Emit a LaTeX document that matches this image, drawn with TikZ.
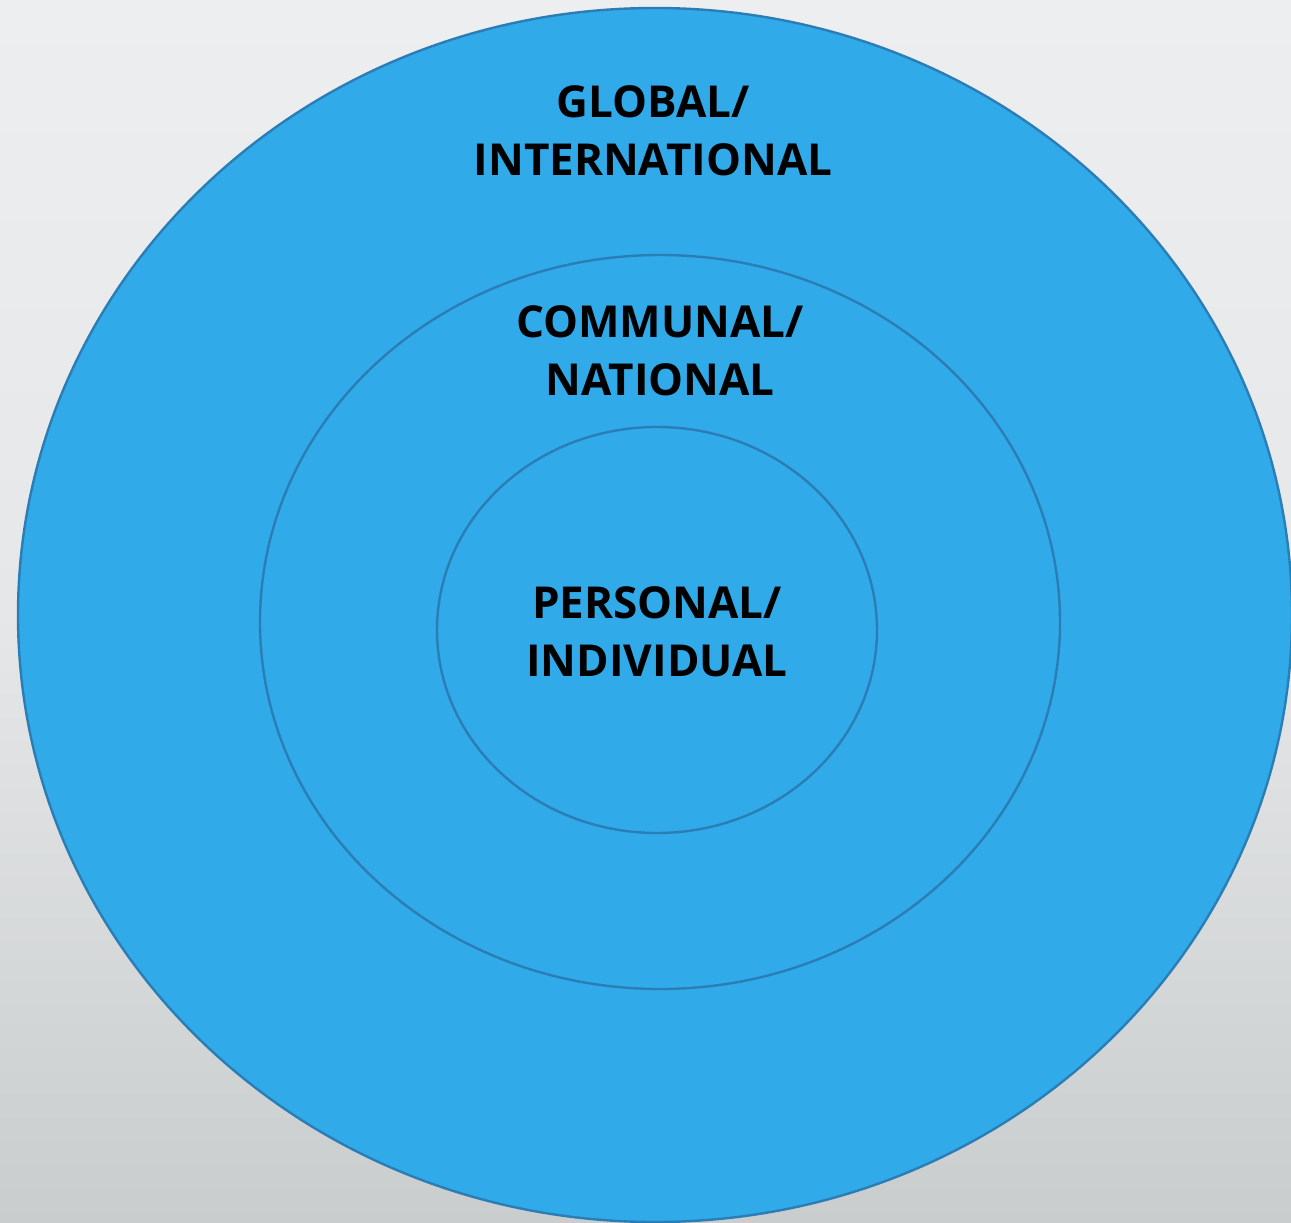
\documentclass[tikz,border=0pt]{standalone}
\usepackage{fontspec}
\setmainfont{Open Sans}
\definecolor{ringfill}{HTML}{31AAEA}
\definecolor{ringline}{HTML}{2B7DB5}
\definecolor{bgtop}{HTML}{EDEEEF}
\definecolor{bgmid}{HTML}{E6E7E8}
\definecolor{bgbot}{HTML}{C9CDCE}
\begin{document}
\begin{tikzpicture}[x=1pt,y=-1pt,
  ring/.style={fill=ringfill,draw=ringline,line width=2.4pt},
  lbl/.style={font=\fontsize{44}{58}\selectfont\bfseries,align=center,text=black,inner sep=0pt}]
\shade[top color=bgtop,bottom color=bgbot,middle color=bgmid] (0,0) rectangle (1291,1223);
\useasboundingbox (0,0) rectangle (1291,1223);
\draw[ring] (655,615) ellipse [x radius=637,y radius=607];
\draw[ring] (660,622) ellipse [x radius=400,y radius=367];
\draw[ring] (657,630) ellipse [x radius=220,y radius=203];
\node[lbl] (global) at (653,131) {GLOBAL/\\INTERNATIONAL};
\node[lbl] (communal) at (660,351) {COMMUNAL/\\NATIONAL};
\node[lbl] (personal) at (657,632) {PERSONAL/\\INDIVIDUAL};
\end{tikzpicture}
\end{document}
